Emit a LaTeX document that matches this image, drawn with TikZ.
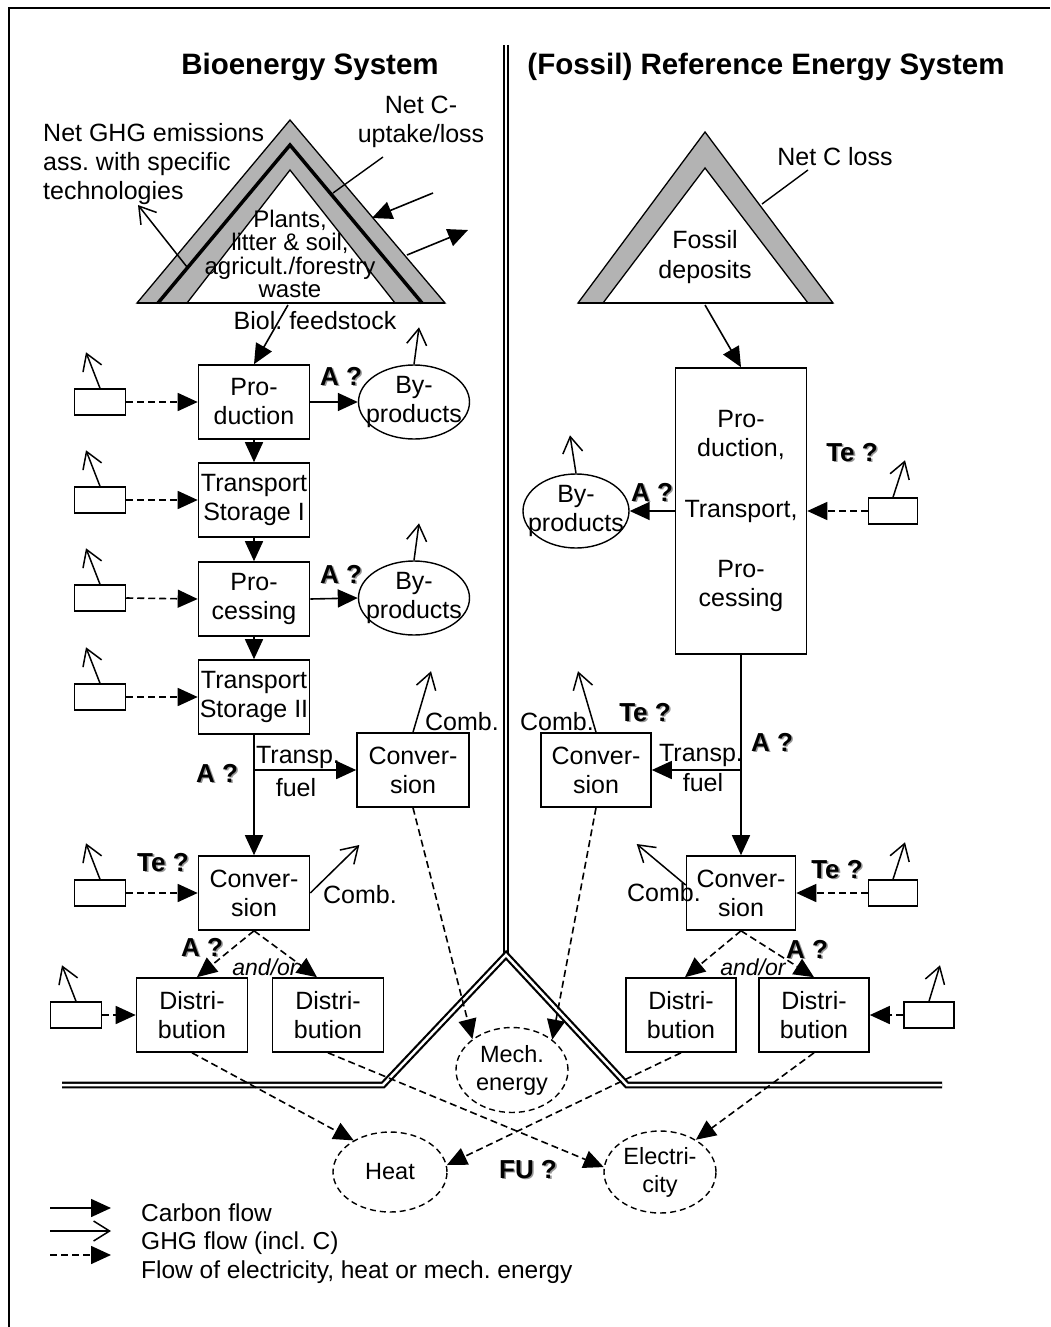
\documentclass[tikz,border=0pt]{standalone}
\usepackage{fontspec}
\setmainfont{Liberation Sans}
\usetikzlibrary{arrows.meta,shapes.geometric}
\definecolor{bandgray}{RGB}{179,179,179}
\definecolor{shadowgray}{RGB}{150,150,150}
\newcommand{\shadowtxt}[1]{\makebox[0pt][l]{\hspace{1.6pt}\raisebox{-1.6pt}{\color{shadowgray}#1}}#1}
\newcommand{\zw}[1]{\makebox[0pt]{#1}}
\frenchspacing
\begin{document}
\begin{tikzpicture}[x=1pt,y=-1pt,
  every node/.style={font=\fontsize{25}{29}\selectfont, align=center, inner sep=0pt},
  proc/.style={draw, line width=1.6pt, minimum width=111pt, minimum height=74pt},
  smallbox/.style={draw, line width=1.5pt, minimum width=51pt, minimum height=26pt},
  prodell/.style={draw, ellipse, line width=1.4pt, minimum width=111pt, minimum height=74pt},
  useful/.style={draw, ellipse, line width=1.4pt, dash pattern=on 6pt off 4pt},
  carbon/.style={line width=1.6pt, -{Triangle[length=20pt,width=18pt]}},
  ghg/.style={line width=1.5pt, -{Straight Barb[length=16pt,width=20pt]}},
  energy/.style={line width=1.6pt, dash pattern=on 7pt off 4pt, -{Triangle[length=20pt,width=18pt]}},
  qlbl/.style={font=\fontsize{26}{29}\selectfont\bfseries},
  titl/.style={font=\fontsize{29.5}{32}\selectfont\bfseries},
  small/.style={font=\fontsize{24.5}{28}\selectfont},
  andor/.style={font=\fontsize{23}{26}\selectfont\itshape},
  dbl/.style={double, double distance=2.5pt, line width=2.2pt},
]
\useasboundingbox (0,0) rectangle (1050,1327);

% frame
\draw[line width=2.5pt] (9,1327) -- (9,8) -- (1050,8);

% separators
\draw[dbl] (506,45) -- (506,955);
\draw[dbl, line join=miter] (62,1085) -- (383,1085) -- (506,955) -- (627,1085) -- (942,1085);

% titles
\node[titl] (t1) at (310,67) {Bioenergy System};
\node[titl] (t2) at (766,67) {(Fossil) Reference Energy System};

% ---------- bio triangle
\filldraw[fill=bandgray, line width=1.3pt, line join=miter] (137,303) -- (290,120) -- (445,303) -- cycle;
\filldraw[fill=white, line width=1.3pt, line join=miter] (187,303) -- (290,170) -- (395,303) -- cycle;
\draw[line width=3.5pt, line join=miter] (158,303) -- (290,145) -- (422,303);
\draw[line width=2pt] (137,303) -- (445,303);
\node[font=\fontsize{24}{23.5}\selectfont] (plants) at (290,254) {Plants,\\litter \& soil,\\agricult./forestry\\waste};

\node[align=left, anchor=west] (netghg) at (43,164) {Net GHG emissions\\ass. with specific\\technologies};
\node (netc) at (421,122) {Net C-\\uptake/loss};
\coordinate (ptr1a) at (383,157);
\coordinate (ptr1b) at (333,193);
\draw[line width=1.4pt] (ptr1a) -- (ptr1b);
\coordinate (cin0) at (433,193);
\coordinate (cin1) at (372,218);
\draw[carbon] (cin0) -- (cin1);
\coordinate (cout0) at (407,255);
\coordinate (cout1) at (468,230);
\draw[carbon] (cout0) -- (cout1);
\coordinate (ghgb) at (187,267);
\coordinate (ghgt) at (138,205);
\draw[ghg] (ghgb) -- (ghgt);

\node (biol) at (315,321) {Biol. feedstock};
\coordinate (tri1b) at (288,305);

% ---------- bio chain
\node[proc] (bprod) at (254,402) {Pro-\\duction};
\node[proc] (btr1) at (254,500) {Transport\\Storage I};
\node[proc] (bproc) at (254,599) {Pro-\\cessing};
\node[proc] (btr2) at (254,697) {Transport\\Storage II};
\node[proc] (bconv) at (254,893) {Conver-\\sion};
\node[proc, minimum width=112pt] (bconv2) at (413,770) {Conver-\\sion};
\node[proc] (bdist1) at (192,1015) {Distri-\\bution};
\node[proc] (bdist2) at (328,1015) {Distri-\\bution};

\node[prodell] (byp1) at (414,402) {\zw{By-}\\\zw{products}};
\node[prodell] (byp2) at (414,598) {\zw{By-}\\\zw{products}};

\node[smallbox] (s1) at (100,402) {};
\node[smallbox] (s2) at (100,500) {};
\node[smallbox] (s3) at (100,598) {};
\node[smallbox] (s4) at (100,697) {};
\node[smallbox] (s5) at (100,893) {};
\node[smallbox] (s6) at (76,1015) {};

\draw[carbon] (tri1b) -- (bprod.north);
\draw[carbon] (bprod.south) -- (btr1.north);
\draw[carbon] (btr1.south) -- (bproc.north);
\draw[carbon] (bproc.south) -- (btr2.north);
\draw[carbon] (btr2.south) -- (bconv.north);
\draw[carbon] (btr2.south |- bconv2.west) -- (bconv2.west);
\draw[carbon] (bprod.east) -- (byp1.west);
\draw[carbon] (bproc.east) -- (byp2.west);

\draw[ghg] (byp1.north) -- +(5,-37);
\draw[ghg] (byp2.north) -- +(5,-37);
\foreach \s in {s1,s2,s3,s4,s5,s6} { \draw[ghg] (\s.north) -- +(-14,-36); }
\draw[ghg] (bconv2.north) -- +(18,-61);
\draw[ghg] (bconv.east) -- +(49,-48);

\draw[energy] (s1.east) -- (bprod.west);
\draw[energy] (s2.east) -- (btr1.west);
\draw[energy] (s3.east) -- (bproc.west);
\draw[energy] (s4.east) -- (btr2.west);
\draw[energy] (s5.east) -- (bconv.west);
\draw[energy] (s6.east) -- (bdist1.west);
\draw[energy] (bconv.south) -- ([xshift=5pt]bdist1.north);
\draw[energy] (bconv.south) -- ([xshift=-11pt]bdist2.north);

\node[qlbl] (qa1) at (341,377) {\shadowtxt{A ?}};
\node[qlbl] (qa2) at (341,575) {\shadowtxt{A ?}};
\node[qlbl] (qa3) at (217,774) {\shadowtxt{A ?}};
\node[qlbl] (qa4) at (202,948) {\shadowtxt{A ?}};
\node[qlbl] (qt1) at (163,863) {\shadowtxt{Te ?}};
\node (tf1a) at (298,757) {Transp.};
\node (tf1b) at (296,788) {fuel};
\node (cb1) at (462,722) {Comb.};
\node (cb2) at (360,895) {Comb.};
\node[andor] (ao1) at (265,967) {and/or};

% ---------- fossil triangle
\filldraw[fill=bandgray, line width=1.3pt, line join=miter] (578,303) -- (705,132) -- (833,303) -- cycle;
\filldraw[fill=white, line width=1.3pt, line join=miter] (603,303) -- (705,168) -- (808,303) -- cycle;
\draw[line width=2pt] (578,303) -- (833,303);
\node[font=\fontsize{25}{30}\selectfont] (fdep) at (705,257) {Fossil\\deposits};
\node (netcl) at (835,157) {Net C loss};
\coordinate (ptr2a) at (808,170);
\coordinate (ptr2b) at (762,204);
\draw[line width=1.4pt] (ptr2a) -- (ptr2b);
\coordinate (tri2b) at (705,305);

% ---------- fossil chain
\node[proc, minimum width=131pt, minimum height=286pt] (fbig) at (741,511)
  {Pro-\\duction,\\[32pt]Transport,\\[31pt]Pro-\\cessing};
\node[proc, minimum width=110pt] (fconv2) at (596,770) {Conver-\\sion};
\node[proc, minimum width=109pt] (fconv) at (741,893) {Conver-\\sion};
\node[proc, minimum width=110pt] (fdist1) at (681,1015) {Distri-\\bution};
\node[proc, minimum width=110pt] (fdist2) at (814,1015) {Distri-\\bution};
\node[prodell, minimum width=106pt] (fbyp) at (576,511) {\zw{By-}\\\zw{products}};

\node[smallbox, minimum width=49pt] (sf1) at (893,511) {};
\node[smallbox, minimum width=49pt] (sf2) at (893,893) {};
\node[smallbox, minimum width=50pt] (sf3) at (929,1015) {};

\draw[carbon] (tri2b) -- (fbig.north);
\draw[carbon] (fbig.south) -- (fconv.north);
\draw[carbon] (fbig.south |- fconv2.east) -- (fconv2.east);
\draw[carbon] (fbig.west) -- (fbyp.east);

\draw[ghg] (fbyp.north) -- +(-6,-38);
\draw[ghg] (sf1.north) -- +(12,-37);
\draw[ghg] (sf2.north) -- +(12,-37);
\draw[ghg] (sf3.north) -- +(11,-36);
\draw[ghg] (fconv2.north) -- +(-18,-61);
\draw[ghg] ([yshift=8pt]fconv.west) -- +(-49,-41);

\draw[energy] (sf1.west) -- (fbig.east);
\draw[energy] (sf2.west) -- (fconv.east);
\draw[energy] (sf3.west) -- (fdist2.east);
\draw[energy] (fconv.south) -- ([xshift=4pt]fdist1.north);
\draw[energy] (fconv.south) -- (fdist2.north);

\node[qlbl] (qa5) at (652,493) {\shadowtxt{A ?}};
\node[qlbl] (qa6) at (772,743) {\shadowtxt{A ?}};
\node[qlbl] (qa7) at (807,950) {\shadowtxt{A ?}};
\node[qlbl] (qt2) at (852,453) {\shadowtxt{Te ?}};
\node[qlbl] (qt3) at (645,713) {\shadowtxt{Te ?}};
\node[qlbl] (qt4) at (837,870) {\shadowtxt{Te ?}};
\node (tf2a) at (701,755) {Transp.};
\node (tf2b) at (703,783) {fuel};
\node (cb3) at (557,722) {Comb.};
\node (cb4) at (664,893) {Comb.};
\node[andor] (ao2) at (753,967) {and/or};

% ---------- useful energy
\node[useful, minimum width=112pt, minimum height=85pt, font=\fontsize{23.5}{28}\selectfont] (mech) at (512,1070) {\zw{Mech.}\\\zw{energy}};
\node[useful, minimum width=114pt, minimum height=80pt, font=\fontsize{23.5}{28}\selectfont] (heat) at (390,1172) {\zw{Heat}};
\node[useful, minimum width=112pt, minimum height=82pt, font=\fontsize{23.5}{28}\selectfont] (elec) at (660,1172) {\zw{Electri-}\\\zw{city}};
\node[qlbl] (fu) at (528,1170) {\shadowtxt{FU ?}};

\draw[energy] (bconv2.south) -- (mech.142);
\draw[energy] (fconv2.south) -- (mech.37);
\draw[energy] (bdist1.south) -- (heat.139);
\draw[energy] (fdist1.south) -- (heat.7);
\draw[energy] (bdist2.south) -- (elec.175);
\draw[energy] (fdist2.south) -- (elec.42);

% ---------- legend
\coordinate (l1a) at (50,1208); \coordinate (l1b) at (111,1208);
\coordinate (l2a) at (50,1231); \coordinate (l2b) at (111,1231);
\coordinate (l3a) at (50,1255); \coordinate (l3b) at (111,1255);
\draw[carbon] (l1a) -- (l1b);
\draw[ghg] (l2a) -- (l2b);
\draw[energy] (l3a) -- (l3b);
\node[small, anchor=west] (lt1) at (141,1213) {Carbon flow};
\node[small, anchor=west] (lt2) at (141,1243) {GHG flow (incl. C)};
\node[small, anchor=west] (lt3) at (141,1272) {Flow of electricity, heat or mech. energy};
\end{tikzpicture}
\end{document}
